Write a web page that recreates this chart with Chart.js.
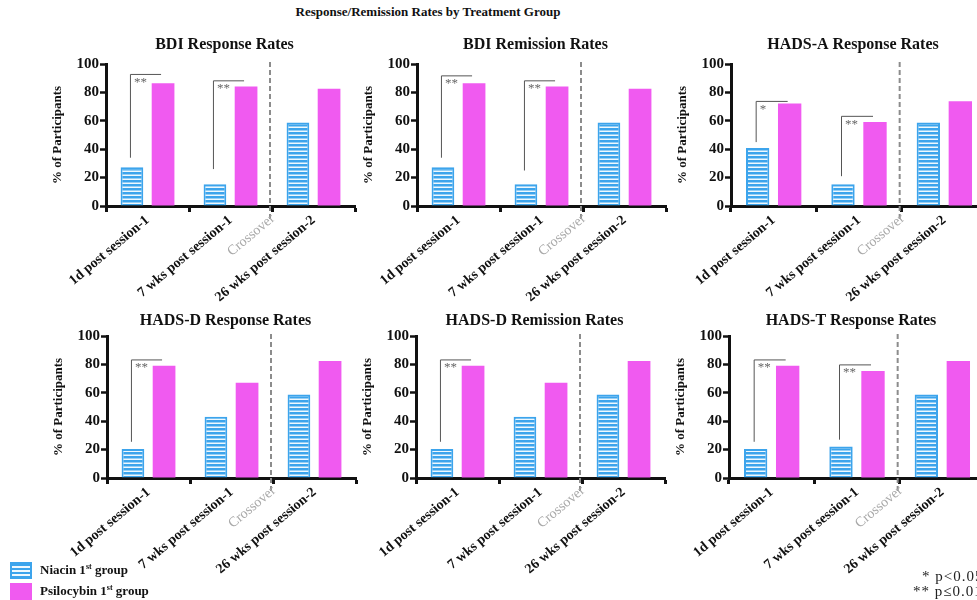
<!DOCTYPE html>
<html>
<head>
<meta charset="utf-8">
<script src="https://cdn.jsdelivr.net/npm/chart.js@4.4.1/dist/chart.umd.min.js"></script>
<style>
  body { margin: 0; width: 977px; height: 600px; overflow: hidden; background: #fff; position: relative; font-family: "Liberation Serif", "Times New Roman", serif; }
  .panel { position: absolute; width: 330px; height: 280px; }
  #mainTitle { position: absolute; left: 0; width: 856px; top: 4px; text-align: center; font-weight: bold; font-size: 13px; color: #111; }
  .leg { position: absolute; left: 10px; font-weight: bold; font-size: 13px; color: #111; }
  .leg span.sw { position: absolute; left: 0; top: 0; width: 22px; height: 17px; box-sizing: border-box; }
  .leg span.tx { position: absolute; left: 30px; top: 0px; white-space: nowrap; }
  .leg sup { font-size: 8px; }
  .note { position: absolute; font-size: 15px; letter-spacing: 1px; color: #222; white-space: nowrap; }
</style>
</head>
<body>
<div id="mainTitle">Response/Remission Rates by Treatment Group</div>

<div class="panel" style="left:44px; top:36px;"><canvas id="c0"></canvas></div>
<div class="panel" style="left:355px; top:36px;"><canvas id="c1"></canvas></div>
<div class="panel" style="left:669px; top:36px;"><canvas id="c2"></canvas></div>
<div class="panel" style="left:45px; top:308px;"><canvas id="c3"></canvas></div>
<div class="panel" style="left:354px; top:308px;"><canvas id="c4"></canvas></div>
<div class="panel" style="left:667px; top:308px;"><canvas id="c5"></canvas></div>

<div class="leg" style="top:562px;"><span class="sw" id="swBlue"></span><span class="tx">Niacin 1<sup>st</sup> group</span></div>
<div class="leg" style="top:583px;"><span class="sw" style="background:#f05af0;"></span><span class="tx">Psilocybin 1<sup>st</sup> group</span></div>
<div class="note" style="left:922px; top:568px;">* p&lt;0.05</div>
<div class="note" style="left:913px; top:583px;">** p≤0.01</div>

<script>
// time points and panel titles
const categories = ["1d post session-1", "7 wks post session-1", "26 wks post session-2"];
const panelTitles = ["BDI Response Rates", "BDI Remission Rates", "HADS-A Response Rates",
                     "HADS-D Response Rates", "HADS-D Remission Rates", "HADS-T Response Rates"];

// % of participants
const bdiResponseNiacin = [27.3, 15.4, 58.8];
const bdiResponsePsilo = [86.4, 84.2, 82.6];
const bdiRemissionNiacin = [27.3, 15.4, 58.8];
const bdiRemissionPsilo = [86.4, 84.2, 82.6];
const hadsAResponseNiacin = [40.9, 15.4, 58.8];
const hadsAResponsePsilo = [72.2, 59.1, 73.7];
const hadsDResponseNiacin = [20.5, 43.2, 58.8];
const hadsDResponsePsilo = [79.0, 67.1, 82.4];
const hadsDRemissionNiacin = [20.5, 43.2, 58.8];
const hadsDRemissionPsilo = [79.0, 67.1, 82.4];
const hadsTResponseNiacin = [20.5, 22.1, 58.8];
const hadsTResponsePsilo = [79.0, 75.4, 82.4];

// significance brackets: category index, low/high ends (in %), mark
const bdiResponseSig = [{ cat: 0, low: 34, high: 93, mark: "**" }, { cat: 1, low: 26, high: 88.5, mark: "**" }];
const bdiRemissionSig = [{ cat: 0, low: 34, high: 92, mark: "**" }, { cat: 1, low: 25, high: 88.5, mark: "**" }];
const hadsAResponseSig = [{ cat: 0, low: 45, high: 74, mark: "*" }, { cat: 1, low: 21, high: 63.5, mark: "**" }];
const hadsDResponseSig = [{ cat: 0, low: 25.5, high: 83.5, mark: "**" }];
const hadsDRemissionSig = [{ cat: 0, low: 25.5, high: 83.5, mark: "**" }];
const hadsTResponseSig = [{ cat: 0, low: 25.5, high: 83.5, mark: "**" }, { cat: 1, low: 27, high: 80, mark: "**" }];

const yTicks = [0, 20, 40, 60, 80, 100];

const niacinSets = [bdiResponseNiacin, bdiRemissionNiacin, hadsAResponseNiacin, hadsDResponseNiacin, hadsDRemissionNiacin, hadsTResponseNiacin];
const psiloSets = [bdiResponsePsilo, bdiRemissionPsilo, hadsAResponsePsilo, hadsDResponsePsilo, hadsDRemissionPsilo, hadsTResponsePsilo];
const sigSets = [bdiResponseSig, bdiRemissionSig, hadsAResponseSig, hadsDResponseSig, hadsDRemissionSig, hadsTResponseSig];

const FONT = "'Liberation Serif', 'Times New Roman', serif";
const BLUE = '#3ca4ec';
const PINK = '#f05af0';

Chart.defaults.font.family = FONT;

function stripePattern() {
  const c = document.createElement('canvas');
  c.width = 8; c.height = 4;
  const g = c.getContext('2d');
  g.fillStyle = '#eef8fe';
  g.fillRect(0, 0, 8, 4);
  g.fillStyle = BLUE;
  g.fillRect(0, 0, 8, 2.5);
  return g.createPattern(c, 'repeat');
}

document.getElementById('swBlue').style.background =
  'repeating-linear-gradient(to bottom, ' + BLUE + ' 0 2.5px, #eef8fe 2.5px 4px)';
document.getElementById('swBlue').style.border = '2px solid ' + BLUE;

// panel title, crossover line + label, significance brackets
const panelMarks = {
  id: 'panelMarks',
  afterDatasetsDraw(chart, args, opts) {
    const ctx = chart.ctx;
    const xs = chart.scales.x, ys = chart.scales.y;
    const area = chart.chartArea;

    ctx.save();
    ctx.font = 'bold 16px ' + FONT;
    ctx.fillStyle = '#111';
    ctx.textAlign = 'center';
    ctx.textBaseline = 'middle';
    ctx.fillText(opts.title, (area.left + area.right) / 2 - 6, area.top - opts.titleGap);
    ctx.restore();

    // dashed crossover divider between 2nd and 3rd time point
    const dx = (xs.getPixelForValue(1) + xs.getPixelForValue(2)) / 2 - 2;
    ctx.save();
    ctx.strokeStyle = '#8c8c8c';
    ctx.lineWidth = 2;
    ctx.setLineDash([5, 3]);
    ctx.beginPath();
    ctx.moveTo(dx, area.top - 2);
    ctx.lineTo(dx, area.bottom + 15);
    ctx.stroke();
    ctx.setLineDash([]);

    ctx.translate(dx + 3, area.bottom + 11);
    ctx.rotate(-40 * Math.PI / 180);
    ctx.font = '14px ' + FONT;
    ctx.fillStyle = '#a8a8a8';
    ctx.textAlign = 'right';
    ctx.textBaseline = 'middle';
    ctx.fillText('Crossover', 0, 0);
    ctx.restore();

    const m0 = chart.getDatasetMeta(0), m1 = chart.getDatasetMeta(1);
    ctx.save();
    ctx.strokeStyle = '#555';
    ctx.lineWidth = 1;
    ctx.fillStyle = '#666';
    ctx.font = '13px ' + FONT;
    ctx.textAlign = 'left';
    ctx.textBaseline = 'top';
    opts.sig.forEach(s => {
      const bx = m0.data[s.cat].x - 2;
      const px = m1.data[s.cat].x - 2;
      const yl = ys.getPixelForValue(s.low);
      const yh = ys.getPixelForValue(s.high);
      ctx.beginPath();
      ctx.moveTo(bx + 0.5, yl);
      ctx.lineTo(bx + 0.5, yh + 0.5);
      ctx.lineTo(px, yh + 0.5);
      ctx.stroke();
      ctx.fillText(s.mark, bx + 4, yh + 2);
    });
    ctx.restore();
  }
};

function makePanel(i) {
  const topRow = i < 3;
  const rightCol = i % 3 === 2;
  new Chart(document.getElementById('c' + i), {
    type: 'bar',
    data: {
      labels: categories,
      datasets: [
        { label: 'Niacin 1st group', data: niacinSets[i], backgroundColor: stripePattern(), borderColor: BLUE, borderWidth: 2 },
        { label: 'Psilocybin 1st group', data: psiloSets[i], backgroundColor: PINK, borderWidth: 0 }
      ]
    },
    options: {
      responsive: false,
      animation: false,
      // plot width 249 (256 on the right column, which is cut by the page edge)
      layout: { padding: { left: 0, right: rightCol ? 12 : 19, top: 28, bottom: 0 } },
      datasets: { bar: { categoryPercentage: 0.75, barPercentage: 0.73 } },
      plugins: {
        legend: { display: false },
        tooltip: { enabled: false },
        title: { display: false },
        panelMarks: { sig: sigSets[i], title: panelTitles[i], titleGap: topRow ? 19 : 15 }
      },
      scales: {
        x: {
          afterFit(s) { s.height = 110; },
          grid: { drawOnChartArea: false, drawTicks: true, tickLength: 6, tickWidth: 3, tickColor: '#111' },
          border: { display: true, color: '#111', width: 3 },
          ticks: {
            autoSkip: false, minRotation: 40, maxRotation: 40, padding: 0,
            color: '#111', font: { family: FONT, size: 14, weight: 'bold' }
          }
        },
        y: {
          min: 0, max: 100,
          afterFit(s) { s.width = 62; },
          afterBuildTicks(s) { s.ticks = yTicks.map(v => ({ value: v })); },
          grid: { drawOnChartArea: false, drawTicks: true, tickLength: 6, tickWidth: 2.5, tickColor: '#111' },
          border: { display: true, color: '#111', width: 3 },
          ticks: { padding: 1, color: '#111', font: { family: FONT, size: 15, weight: 'bold' } },
          title: {
            display: true, text: '% of Participants', color: '#111',
            font: { family: FONT, size: 13, weight: 'bold' },
            padding: { top: 6, bottom: 0 }
          }
        }
      }
    },
    plugins: [panelMarks]
  });
}

function drawAll() {
  for (let i = 0; i < 6; i++) {
    const cv = document.getElementById('c' + i);
    cv.width = 330; cv.height = 280;
    cv.style.width = '330px'; cv.style.height = '280px';
    makePanel(i);
  }
}

Promise.all([
  document.fonts.load("bold 14px 'Liberation Serif'"),
  document.fonts.load("14px 'Liberation Serif'")
]).then(drawAll, drawAll);
</script>
</body>
</html>
